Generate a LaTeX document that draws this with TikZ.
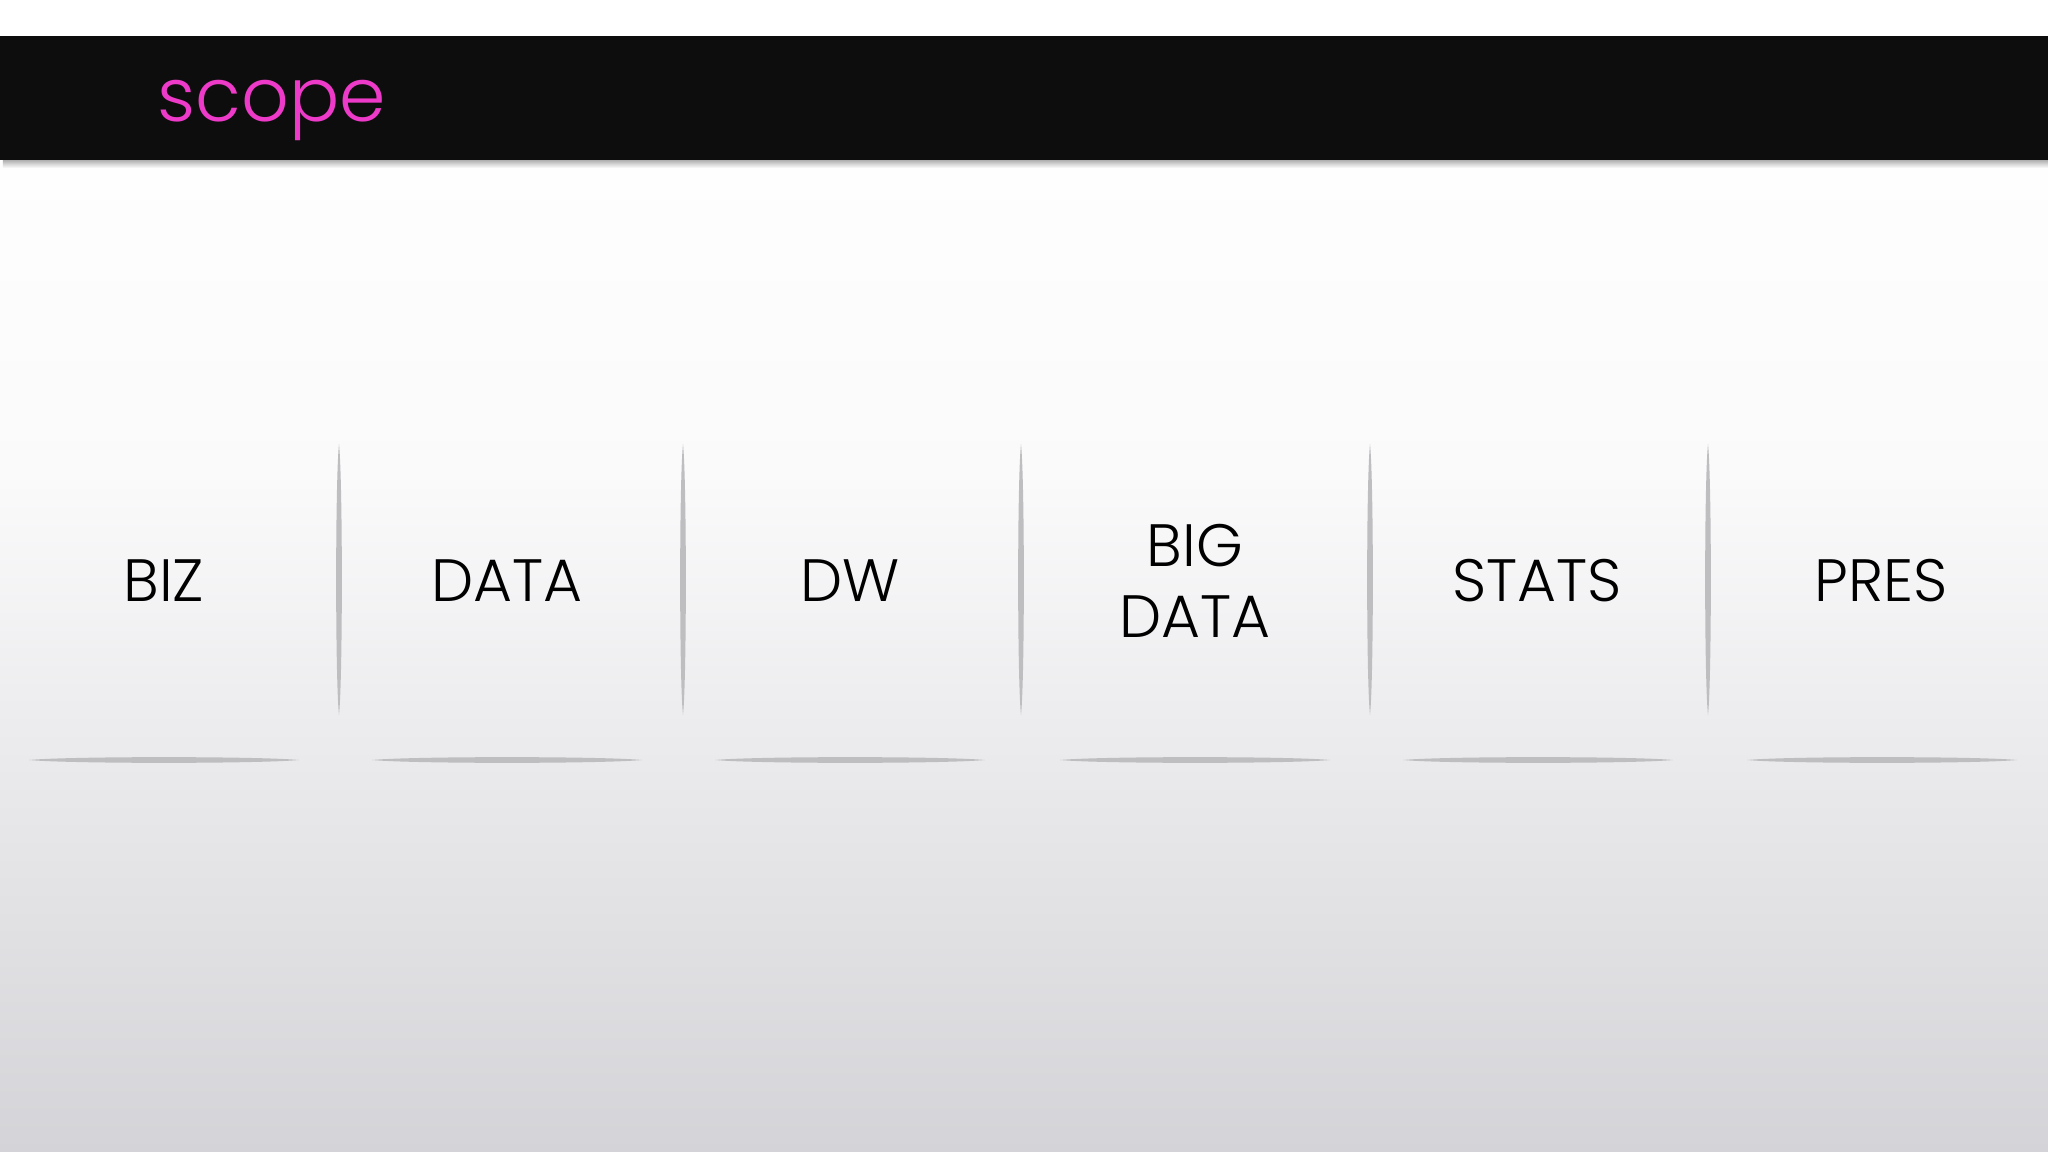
\documentclass[tikz,border=0pt]{standalone}
\usepackage{fontspec}
\setmainfont{Poppins Light}
\usepackage{tikz}
\usetikzlibrary{positioning}

\definecolor{bandblack}{RGB}{14,13,14}
\definecolor{scopepink}{RGB}{238,58,200}
\definecolor{sepgray}{RGB}{190,189,192}
\definecolor{bgtop}{RGB}{254,254,255}
\definecolor{bgupper}{RGB}{250,250,251}
\definecolor{bgmid}{RGB}{239,238,240}
\definecolor{bgbot}{RGB}{212,211,215}

\begin{document}
\begin{tikzpicture}[x=0.01cm,y=-0.01cm,
    colname/.style={font=\fontsize{17}{20.2}\selectfont, text=black, align=center, inner sep=0pt}]
    \useasboundingbox (0,0) rectangle (2048,1152);
    % background and header band
    \fill[white] (0,0) rectangle (2048,160);
    \shade[top color=bgtop, bottom color=bgupper] (0,160) rectangle (2048,481);
    \shade[top color=bgupper, middle color=bgmid, bottom color=bgbot] (0,480) rectangle (2048,1152);
    \shade[top color=gray!70, bottom color=bgtop] (3,159) rectangle (2048,168);
    \fill[bandblack] (0,36) rectangle (2048,160);
    \node[font=\fontsize{21.2}{25}\selectfont, text=scopepink, anchor=base west, inner sep=0pt] (title) at (157,122) {scope};
    % columns
    \foreach \name/\x/\txt in {biz/164/BIZ, data/507/DATA, dw/850/DW, bigdata/1195/{BIG\\DATA}, stats/1537/STATS, pres/1881/PRES} { \node[colname] (\name) at (\x,581) {\txt}; }
    \foreach \x in {339, 683, 1021, 1370, 1708} { \fill[sepgray] (\x,444) .. controls (\x+3.8,480) and (\x+3.8,680) .. (\x,715) .. controls (\x-3.8,680) and (\x-3.8,480) .. cycle; }
    \foreach \x in {164, 507, 850, 1195, 1538, 1882} { \fill[sepgray] (\x-135,760) .. controls (\x-95,756.2) and (\x+95,756.2) .. (\x+135,760) .. controls (\x+95,763.8) and (\x-95,763.8) .. cycle; }
\end{tikzpicture}
\end{document}
